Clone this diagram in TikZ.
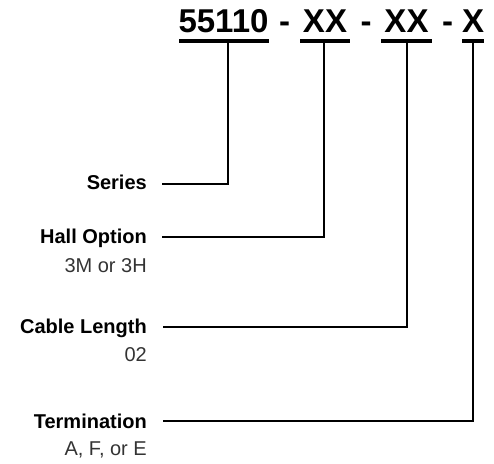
\documentclass[tikz,border=0pt]{standalone}
\usepackage{fontspec}
\setmainfont{Liberation Sans}
\begin{document}
\begin{tikzpicture}[x=1pt,y=-1pt,
  code/.style={anchor=base,inner sep=0pt,font=\fontsize{33}{38}\selectfont\bfseries},
  lbl/.style={anchor=base east,inner sep=0pt,font=\fontsize{20}{24}\selectfont\bfseries},
  sub/.style={anchor=base east,inner sep=0pt,text=black!80,font=\fontsize{20}{24}\selectfont},
  uline/.style={line width=4.5pt},
  conn/.style={line width=2pt}]
\useasboundingbox (0,0) rectangle (494,463);
% code parts
\node[code] (p1) at (223.5,32) {55110};
\node[code] (d1) at (284.5,32) {-};
\node[code] (p2) at (325,32) {XX};
\node[code] (d2) at (366,32) {-};
\node[code] (p3) at (406.5,32) {XX};
\node[code] (d3) at (447.5,32) {-};
\node[code] (p4) at (473,32) {X};
% underlines
\draw[uline] (179,41) -- (269,41);
\draw[uline] (300,41) -- (350,41);
\draw[uline] (381,41) -- (432,41);
\draw[uline] (462,41) -- (484,41);
\coordinate (u1) at (228,42);
\coordinate (u2) at (324,42);
\coordinate (u3) at (407,42);
\coordinate (u4) at (473,42);
% labels
\node[lbl] (series) at (147,189) {Series};
\node[lbl] (hall) at (147,243) {Hall Option};
\node[sub] (hallv) at (147,272) {3M or 3H};
\node[lbl] (cable) at (147,333) {Cable Length};
\node[sub] (cablev) at (147,361) {02};
\node[lbl] (term) at (147,428) {Termination};
\node[sub] (termv) at (147,455) {A, F, or E};
% connectors
\coordinate (s1) at (162,184);
\coordinate (s2) at (162,237);
\coordinate (s3) at (163,327);
\coordinate (s4) at (163,421);
\draw[conn] (s1) -| (u1);
\draw[conn] (s2) -| (u2);
\draw[conn] (s3) -| (u3);
\draw[conn] (s4) -| (u4);
\end{tikzpicture}
\end{document}
